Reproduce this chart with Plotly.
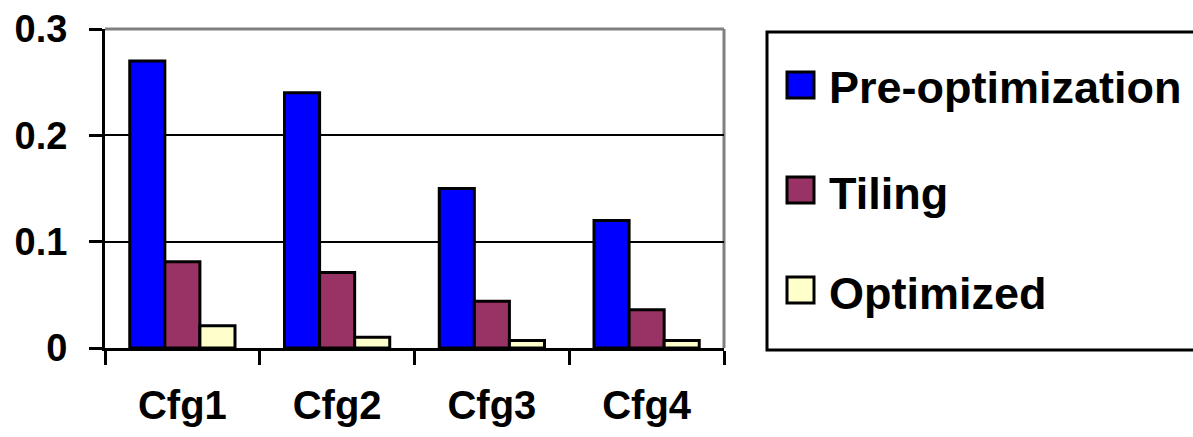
import plotly.graph_objects as go

# Data
categories = ["Cfg1", "Cfg2", "Cfg3", "Cfg4"]
series_names = ["Pre-optimization", "Tiling", "Optimized"]
pre_optimization = [0.27, 0.24, 0.15, 0.12]
tiling = [0.081, 0.071, 0.044, 0.036]
optimized = [0.021, 0.010, 0.007, 0.007]
y_ticks = [0, 0.1, 0.2, 0.3]
y_tick_labels = ["0", "0.1", "0.2", "0.3"]

colors = ["#0000FF", "#993366", "#FFFFCC"]
series_values = [pre_optimization, tiling, optimized]

W, H = 1193, 437
L, R, T, B = 105, 724, 29, 348  # plot area in pixels

FONT = "Liberation Sans, Arial, sans-serif"

fig = go.Figure()
for name, vals, col in zip(series_names, series_values, colors):
    fig.add_trace(go.Bar(
        x=categories, y=vals, name=name,
        marker=dict(color=col, line=dict(color="black", width=3)),
        showlegend=False,
    ))


def px_x(p):
    return (p - L) / (R - L)


def px_y(p):
    return (B - p) / (B - T)


shapes = [
    # grey top and right frame of the plot area
    dict(type="line", xref="paper", yref="paper", x0=0, x1=1, y0=1, y1=1,
         line=dict(color="#808080", width=3), layer="above"),
    dict(type="line", xref="paper", yref="paper", x0=1, x1=1, y0=0, y1=1,
         line=dict(color="#808080", width=3), layer="below"),
    # legend box
    dict(type="rect", xref="paper", yref="paper",
         x0=px_x(767), x1=px_x(1210), y0=px_y(350), y1=px_y(32),
         line=dict(color="black", width=3), fillcolor="white"),
]

annotations = []
legend_centers = [85, 190, 290]
for name, col, cy in zip(series_names, colors, legend_centers):
    shapes.append(dict(
        type="rect", xref="paper", yref="paper",
        x0=px_x(787), x1=px_x(814), y0=px_y(cy + 13), y1=px_y(cy - 13),
        line=dict(color="black", width=3), fillcolor=col,
    ))
    annotations.append(dict(
        xref="paper", yref="paper", x=px_x(827), y=px_y(cy + 3),
        text=name, showarrow=False, xanchor="left", yanchor="middle",
        font=dict(family=FONT, size=45, color="black", weight="bold"),
    ))

fig.update_layout(
    width=W, height=H,
    margin=dict(l=L, r=W - R, t=T, b=H - B, pad=0, autoexpand=False),
    paper_bgcolor="white", plot_bgcolor="white",
    barmode="group", bargap=0.32, bargroupgap=0,
    font=dict(family=FONT, color="black", weight="bold"),
    shapes=shapes, annotations=annotations,
    xaxis=dict(
        type="category", showline=True, linecolor="black", linewidth=3,
        ticks="outside", tickson="boundaries", ticklen=14, tickwidth=3,
        tickcolor="black", showgrid=False, automargin=False,
        tickfont=dict(family=FONT, size=40, color="black", weight="bold"),
        ticklabelstandoff=20,
    ),
    yaxis=dict(
        range=[0, 0.3], tickvals=y_ticks, ticktext=y_tick_labels,
        showline=True, linecolor="black", linewidth=3, automargin=False,
        ticks="outside", ticklen=13, tickwidth=3, tickcolor="black",
        showgrid=True, gridcolor="black", gridwidth=2, zeroline=False,
        tickfont=dict(family=FONT, size=38, color="black", weight="bold"),
        ticklabelstandoff=14,
    ),
)

fig.write_html("out.html")
